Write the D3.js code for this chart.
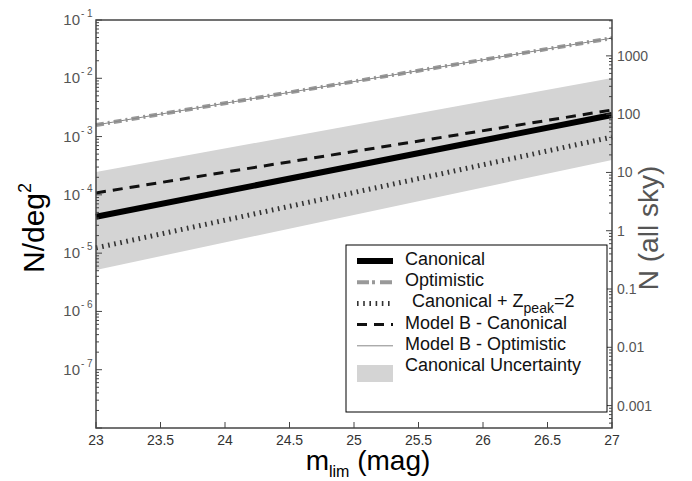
<!DOCTYPE html>
<html>
<head>
<meta charset="utf-8">
<script src="https://cdn.jsdelivr.net/npm/d3@7"></script>
<style>
  body { margin: 0; background: #fff; }
  text { font-family: "Liberation Sans", Arial, sans-serif; }
</style>
</head>
<body>
<svg id="chart" width="692" height="481"></svg>
<script>
// Data (N per deg^2, at m_lim = 23 and 27)
var magnitudes = [23, 27];
var canonical = [4.2e-5, 2.35e-3];
var optimistic = [1.58e-3, 4.9e-2];
var canonicalZpeak2 = [1.23e-5, 9.8e-4];
var modelBCanonical = [1.08e-4, 2.86e-3];
var modelBOptimistic = [1.58e-3, 4.9e-2];
var uncertaintyHigh = [2.47e-4, 1.01e-2];
var uncertaintyLow = [5.15e-6, 3.98e-4];

var xTicks = [23, 23.5, 24, 24.5, 25, 25.5, 26, 26.5, 27];
var leftExponents = [-1, -2, -3, -4, -5, -6, -7];
var rightTickLabels = ["1000", "100", "10", "1", "0.1", "0.01", "0.001"];
var skyDeg2 = 41253; // whole sky in deg^2

var svg = d3.select("#chart");

// plot box
var pLeft = 96, pRight = 612, pTop = 20, pBottom = 428;

var x = d3.scaleLinear().domain([23, 27]).range([pLeft, pRight]);
var y = d3.scaleLog().domain([1e-8, 1e-1]).range([pBottom, pTop]);
var yR = d3.scaleLog().domain([1e-8 * skyDeg2, 1e-1 * skyDeg2]).range([pBottom, pTop]);

function pts(vals) {
  return magnitudes.map(function(m, i) { return [m, vals[i]]; });
}

function isMajor(d) {
  return Math.abs(Math.log10(d) - Math.round(Math.log10(d))) < 1e-6;
}

var line = d3.line()
  .x(function(d) { return x(d[0]); })
  .y(function(d) { return y(d[1]); });

// uncertainty band
var area = d3.area()
  .x(function(d, i) { return x(magnitudes[i]); })
  .y0(function(d, i) { return y(uncertaintyLow[i]); })
  .y1(function(d, i) { return y(uncertaintyHigh[i]); });

svg.append("path")
  .datum(magnitudes)
  .attr("d", area)
  .attr("fill", "#d4d4d4");

// series
var series = [
  { v: optimistic, stroke: "#999", w: 4, dash: "8,4,2,4" },
  { v: modelBOptimistic, stroke: "#888", w: 1, dash: null },
  { v: canonicalZpeak2, stroke: "#333", w: 5, dash: "1.6,4.6" },
  { v: modelBCanonical, stroke: "#111", w: 3, dash: "10,7" },
  { v: canonical, stroke: "#000", w: 6, dash: null }
];

series.forEach(function(s) {
  svg.append("path")
    .datum(pts(s.v))
    .attr("d", line)
    .attr("fill", "none")
    .attr("stroke", s.stroke)
    .attr("stroke-width", s.w)
    .attr("stroke-dasharray", s.dash);
});

// frame
svg.append("rect")
  .attr("x", pLeft).attr("y", pTop)
  .attr("width", pRight - pLeft).attr("height", pBottom - pTop)
  .attr("fill", "none")
  .attr("stroke", "#444")
  .attr("stroke-width", 1.5);

// left axis ticks (inward)
svg.selectAll(".ltick")
  .data(y.ticks())
  .enter().append("line")
  .attr("x1", pLeft)
  .attr("x2", function(d) { return pLeft + (isMajor(d) ? 6 : 3); })
  .attr("y1", function(d) { return y(d); })
  .attr("y2", function(d) { return y(d); })
  .attr("stroke", "#444");

svg.selectAll(".llab")
  .data(leftExponents)
  .enter().append("text")
  .attr("x", 80)
  .attr("y", function(d) { return y(Math.pow(10, d)) + 5; })
  .attr("text-anchor", "end")
  .attr("font-size", 15)
  .attr("fill", "#555")
  .text("10");

svg.selectAll(".lsup")
  .data(leftExponents)
  .enter().append("text")
  .attr("x", 81)
  .attr("y", function(d) { return y(Math.pow(10, d)) - 3; })
  .attr("font-size", 10)
  .attr("fill", "#555")
  .text(function(d) { return "- " + Math.abs(d); });

// right axis ticks (inward)
svg.selectAll(".rtick")
  .data(yR.ticks())
  .enter().append("line")
  .attr("x1", pRight)
  .attr("x2", function(d) { return pRight - (isMajor(d) ? 6 : 3); })
  .attr("y1", function(d) { return yR(d); })
  .attr("y2", function(d) { return yR(d); })
  .attr("stroke", "#444");

svg.selectAll(".rlab")
  .data(rightTickLabels)
  .enter().append("text")
  .attr("x", 617)
  .attr("y", function(d) { return yR(+d) + 5; })
  .attr("font-size", 14)
  .attr("fill", "#555")
  .text(function(d) { return d; });

// x axis
svg.selectAll(".xtick")
  .data(xTicks)
  .enter().append("line")
  .attr("x1", function(d) { return x(d); })
  .attr("x2", function(d) { return x(d); })
  .attr("y1", pBottom)
  .attr("y2", pBottom - 6)
  .attr("stroke", "#444");

svg.selectAll(".xlab")
  .data(xTicks)
  .enter().append("text")
  .attr("x", function(d) { return x(d); })
  .attr("y", 445)
  .attr("text-anchor", "middle")
  .attr("font-size", 14)
  .attr("fill", "#333")
  .text(function(d) { return d; });

// axis titles
var xt = svg.append("text")
  .attr("x", 368)
  .attr("y", 470)
  .attr("text-anchor", "middle")
  .attr("font-size", 28)
  .attr("fill", "#000");
xt.append("tspan").text("m");
xt.append("tspan").attr("dy", 7).attr("font-size", 16).text("lim");
xt.append("tspan").attr("dy", -7).text(" (mag)");

var yt = svg.append("text")
  .attr("transform", "translate(44,228) rotate(-90)")
  .attr("text-anchor", "middle")
  .attr("font-size", 30)
  .attr("fill", "#000");
yt.append("tspan").text("N/deg");
yt.append("tspan").attr("dy", -13).attr("font-size", 18).text("2");

svg.append("text")
  .attr("transform", "translate(658,228) rotate(-90)")
  .attr("text-anchor", "middle")
  .attr("font-size", 28)
  .attr("fill", "#555")
  .text("N (all sky)");

// legend
var legend = svg.append("g");
legend.append("rect")
  .attr("x", 346).attr("y", 245)
  .attr("width", 261).attr("height", 167)
  .attr("fill", "#fff")
  .attr("stroke", "#000");

var legendItems = [
  { label: "Canonical", stroke: "#000", w: 6, dash: null },
  { label: "Optimistic", stroke: "#999", w: 4, dash: "12,3,3,5" },
  { label: "zpeak", stroke: "#333", w: 5, dash: "1.6,4.6" },
  { label: "Model B - Canonical", stroke: "#111", w: 3, dash: "10,7" },
  { label: "Model B - Optimistic", stroke: "#888", w: 1, dash: null },
  { label: "Canonical Uncertainty", band: true }
];

legendItems.forEach(function(d, i) {
  var base = 265 + i * 21.2;
  if (d.band) {
    legend.append("rect")
      .attr("x", 357).attr("y", base - 6)
      .attr("width", 36).attr("height", 17)
      .attr("fill", "#d4d4d4");
  } else {
    legend.append("line")
      .attr("x1", 357).attr("x2", 393)
      .attr("y1", base - 4).attr("y2", base - 4)
      .attr("stroke", d.stroke)
      .attr("stroke-width", d.w)
      .attr("stroke-dasharray", d.dash);
  }
  var t = legend.append("text")
    .attr("x", 405)
    .attr("y", base)
    .attr("font-size", 18)
    .attr("fill", "#111");
  if (d.label === "zpeak") {
    t.attr("x", 412);
    t.append("tspan").text("Canonical + Z");
    t.append("tspan").attr("dy", 6).attr("font-size", 14).text("peak");
    t.append("tspan").attr("dy", -6).text("=2");
  } else {
    t.text(d.label);
  }
});
</script>
</body>
</html>
